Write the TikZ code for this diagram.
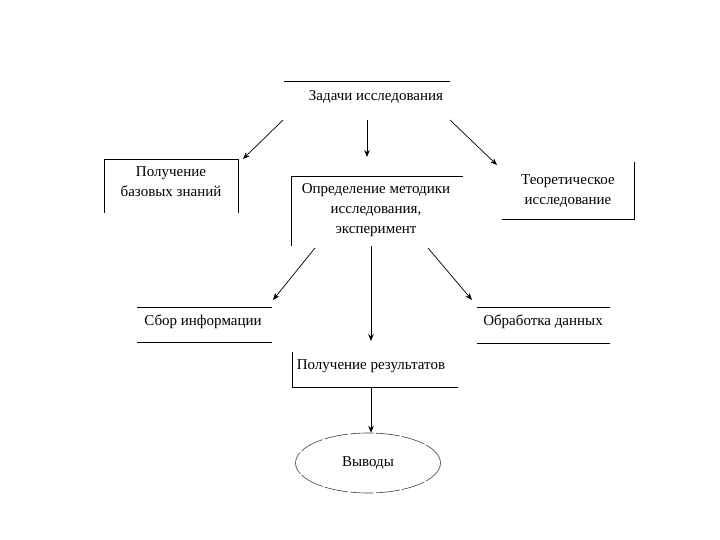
\documentclass[tikz,border=0pt]{standalone}
\usepackage{fontspec}
\setmainfont{Liberation Serif}
\usetikzlibrary{arrows.meta,shapes.geometric}
\begin{document}
\begin{tikzpicture}[x=1pt,y=-1pt,
  lbl/.style={font=\fontsize{15}{20}\selectfont, align=center, inner sep=0pt, text=black},
  ln/.style={line width=0.9pt, black},
  arr/.style={line width=0.7pt, black, -{Stealth[length=7pt,width=5.5pt]}}]
\useasboundingbox (0,0) rectangle (720,540);

% Задачи исследования
\draw[ln] (284,81) -- (450,81);
\node[lbl] (zad) at (376,97) {Задачи исследования};

% Получение базовых знаний
\draw[ln] (104,213) -- (104,159) -- (238,159) -- (238,213);
\node[lbl] (baz) at (171,182) {Получение\\базовых знаний};

% Определение методики
\draw[ln] (291,246) -- (291,176) -- (463,176);
\node[lbl] (met) at (376,210) {Определение методики\\исследования,\\эксперимент};

% Теоретическое исследование
\draw[ln] (634,162) -- (634,219) -- (502,219);
\node[lbl] (teo) at (568,191) {Теоретическое\\исследование};

% Сбор информации
\draw[ln] (137,307) -- (272,307);
\draw[ln] (137,342) -- (272,342);
\node[lbl] (sbor) at (203,322) {Сбор информации};

% Обработка данных
\draw[ln] (477,307) -- (610,307);
\draw[ln] (477,343) -- (610,343);
\node[lbl] (obr) at (543,322) {Обработка данных};

% Получение результатов
\draw[ln] (292,352) -- (292,387) -- (458,387);
\node[lbl] (res) at (371,366) {Получение результатов};

% Выводы
\node[ellipse, draw=black!75, line width=0.6pt, dash pattern=on 24pt off 2pt,
      minimum width=145pt, minimum height=60pt, lbl] (vyv) at (368,463) {Выводы};

% connector end points
\coordinate (a1s) at (283,120); \coordinate (a1e) at (243,159);
\coordinate (a2s) at (367,120); \coordinate (a2e) at (367,157);
\coordinate (a3s) at (450,120); \coordinate (a3e) at (497,165);
\coordinate (b1s) at (315,248); \coordinate (b1e) at (273,300);
\coordinate (b2s) at (371,246); \coordinate (b2e) at (371,341);
\coordinate (b3s) at (428,248); \coordinate (b3e) at (472,300);
\coordinate (c1s) at (371,387);

\draw[arr] (a1s) -- (a1e);
\draw[arr] (a2s) -- (a2e);
\draw[arr] (a3s) -- (a3e);
\draw[arr] (b1s) -- (b1e);
\draw[arr] (b2s) -- (b2e);
\draw[arr] (b3s) -- (b3e);
\draw[arr] (c1s) -- (c1s |- vyv.north);
\end{tikzpicture}
\end{document}
